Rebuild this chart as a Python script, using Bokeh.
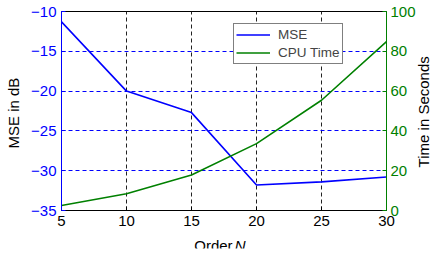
import math
from bokeh.plotting import figure
from bokeh.layouts import column, row
from bokeh.models import Range1d, LinearAxis, FixedTicker, Legend, LegendItem, ColumnDataSource
from bokeh.core.properties import value
from bokeh.embed import file_html
from bokeh.resources import INLINE

order = [5, 10, 15, 20, 25, 30]
mse_db = [-11.3, -20.0, -22.7, -31.8, -31.4, -30.8]
cpu_time = [2.5, 8.4, 17.8, 33.6, 55.4, 84.9]
x_ticks = [5, 10, 15, 20, 25, 30]
left_ticks = [-35, -30, -25, -20, -15, -10]
right_ticks = [0, 20, 40, 60, 80, 100]
xlabel_parts = ["Order", "N"]
right_label = "Time in Seconds"

BLUE = "#0000FF"
GREEN = "#008000"
FONT = "Liberation Sans"
LEFT = 61
RIGHT = 28

p = figure(width=420, height=237, output_backend="svg", toolbar_location=None,
           x_range=Range1d(5, 30), y_range=Range1d(-35, -10),
           frame_width=325, frame_height=199,
           min_border_left=LEFT, min_border_right=RIGHT, min_border_top=11, min_border_bottom=27)
p.extra_y_ranges = {"time": Range1d(0, 100)}
p.background_fill_color = "white"
p.border_fill_color = None
p.outline_line_color = "black"
p.outline_line_width = 1

# grids
p.xgrid.ticker = FixedTicker(ticks=x_ticks[1:-1])
p.xgrid.grid_line_color = "#222222"
p.xgrid.grid_line_dash = "4 3"
p.xgrid.grid_line_width = 1
p.ygrid.ticker = FixedTicker(ticks=left_ticks[1:-1])
p.ygrid.grid_line_color = BLUE
p.ygrid.grid_line_dash = "4 3"
p.ygrid.grid_line_width = 1

r1 = p.line(order, mse_db, line_color=BLUE, line_width=1.6)
r2 = p.line(order, cpu_time, line_color=GREEN, line_width=1.6, y_range_name="time")

# x axis
xa = p.xaxis[0]
xa.ticker = FixedTicker(ticks=x_ticks)
xa.axis_line_color = "black"
xa.major_tick_in = 4
xa.major_tick_out = 0
xa.minor_tick_line_color = None
xa.major_label_text_font = FONT
xa.major_label_text_font_size = "15px"
xa.major_label_text_color = "black"
xa.major_label_standoff = 5

# left axis
ya = p.yaxis[0]
ya.ticker = FixedTicker(ticks=left_ticks)
ya.axis_line_color = BLUE
ya.major_tick_line_color = BLUE
ya.major_tick_in = 4
ya.major_tick_out = 0
ya.minor_tick_line_color = None
ya.major_label_text_font = FONT
ya.major_label_text_font_size = "15px"
ya.major_label_text_color = BLUE
ya.major_label_standoff = 5
ya.axis_label = "MSE  in dB"
ya.axis_label_text_font = FONT
ya.axis_label_text_font_style = "normal"
ya.axis_label_text_font_size = "15px"
ya.axis_label_text_color = "black"
ya.axis_label_standoff = 6

# right axis (its title is drawn in a thin strip to the right, reading upward)
ra = LinearAxis(y_range_name="time", ticker=FixedTicker(ticks=right_ticks))
ra.axis_line_color = GREEN
ra.major_tick_line_color = GREEN
ra.major_tick_in = 4
ra.major_tick_out = 0
ra.minor_tick_line_color = None
ra.major_label_text_font = FONT
ra.major_label_text_font_size = "15px"
ra.major_label_text_color = GREEN
ra.major_label_standoff = 4
p.add_layout(ra, "right")

legend = Legend(items=[LegendItem(label="MSE", renderers=[r1]),
                       LegendItem(label="CPU Time", renderers=[r2])],
                location=(172, 146))
legend.label_text_font = FONT
legend.label_text_font_size = "13.5px"
legend.glyph_width = 34
legend.glyph_height = 17
legend.label_height = 17
legend.label_standoff = 8
legend.spacing = 1
legend.padding = 2
legend.margin = 0
legend.border_line_color = "black"
legend.border_line_width = 1
legend.background_fill_color = "white"
legend.background_fill_alpha = 1
p.add_layout(legend)

# x axis title "Order N" (italic N) in a thin strip below the plot
src = ColumnDataSource(dict(x=[18.16, 18.32], y=[4, 4], text=xlabel_parts,
                            style=["normal", "italic"], align=["right", "left"]))
p2 = figure(width=420, height=20, output_backend="svg", toolbar_location=None,
            x_range=p.x_range, y_range=Range1d(0, 20),
            frame_width=325, frame_height=20,
            min_border_left=LEFT, min_border_right=RIGHT, min_border_top=0, min_border_bottom=0,
            styles={"transform": "translateY(-8.5px)"})
p2.axis.visible = False
p2.grid.visible = False
p2.outline_line_color = None
p2.background_fill_color = None
p2.border_fill_color = None
p2.text(x="x", y="y", text="text", source=src, text_font=value(FONT),
        text_font_size="15px", text_font_style="style", text_align="align",
        text_baseline="alphabetic", text_color="black")

# right-hand title, reading bottom to top
src3 = ColumnDataSource(dict(x=[0.53], y=[-22.6], text=[right_label]))
p3 = figure(width=17, height=237, output_backend="svg", toolbar_location=None,
            x_range=Range1d(0, 1), y_range=p.y_range,
            frame_width=17, frame_height=199,
            min_border_left=0, min_border_right=0, min_border_top=11, min_border_bottom=27,
            styles={"transform": "translateX(-4px)"})
p3.axis.visible = False
p3.grid.visible = False
p3.outline_line_color = None
p3.background_fill_color = None
p3.border_fill_color = None
p3.text(x="x", y="y", text="text", source=src3, angle=math.pi / 2,
        text_font=value(FONT), text_font_size="15px", text_align="center",
        text_baseline="middle", text_color="black")

layout = row(column(p, p2, spacing=0), p3, spacing=0)
open("out.html", "w").write(file_html(layout, INLINE))
